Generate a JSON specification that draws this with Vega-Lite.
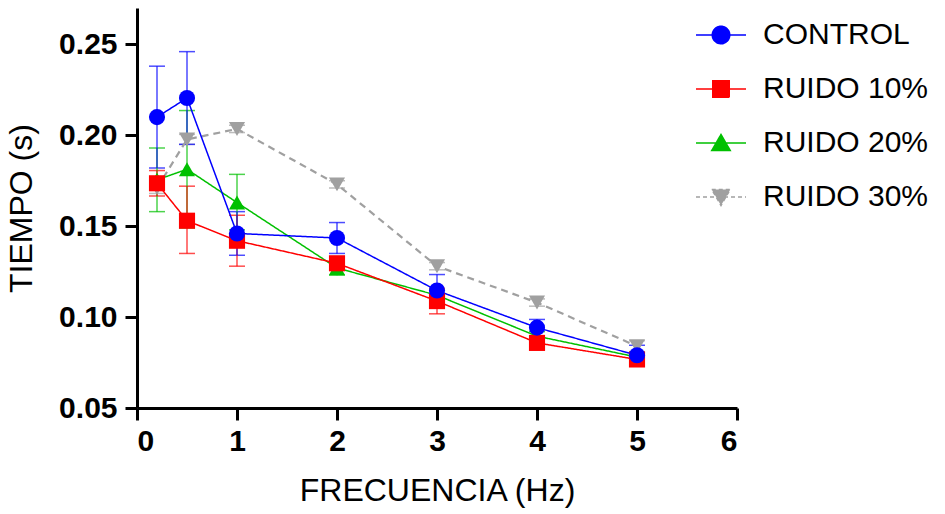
{
  "$schema": "https://vega.github.io/schema/vega-lite/v6.json",
  "width": 600,
  "height": 400,
  "autosize": {"type": "none"},
  "padding": {"left": 137, "top": 8, "right": 208, "bottom": 106},
  "background": "white",
  "config": {
    "view": {"stroke": null},
    "font": "Liberation Sans",
    "axis": {
      "grid": false,
      "domainColor": "black",
      "domainWidth": 3,
      "tickColor": "black",
      "tickWidth": 3,
      "tickSize": 12,
      "labelFont": "Liberation Sans",
      "labelFontWeight": "bold",
      "labelFontSize": 30,
      "labelColor": "black",
      "titleFont": "Liberation Sans",
      "titleFontWeight": "normal",
      "titleFontSize": 32,
      "titleColor": "black"
    }
  },
  "data": {
    "values": [
      {"freq": 0.2, "group": "RUIDO 30%", "mean": 0.171, "lo": 0.168, "hi": 0.174},
      {"freq": 0.5, "group": "RUIDO 30%", "mean": 0.1977, "lo": 0.195, "hi": 0.2005},
      {"freq": 1, "group": "RUIDO 30%", "mean": 0.2035, "lo": 0.2015, "hi": 0.2055},
      {"freq": 2, "group": "RUIDO 30%", "mean": 0.173, "lo": 0.171, "hi": 0.175},
      {"freq": 3, "group": "RUIDO 30%", "mean": 0.128, "lo": 0.126, "hi": 0.13},
      {"freq": 4, "group": "RUIDO 30%", "mean": 0.108, "lo": 0.106, "hi": 0.11},
      {"freq": 5, "group": "RUIDO 30%", "mean": 0.084, "lo": 0.081, "hi": 0.087},
      {"freq": 0.2, "group": "RUIDO 20%", "mean": 0.1755, "lo": 0.158, "hi": 0.193},
      {"freq": 0.5, "group": "RUIDO 20%", "mean": 0.1813, "lo": 0.149, "hi": 0.2136},
      {"freq": 1, "group": "RUIDO 20%", "mean": 0.163, "lo": 0.148, "hi": 0.1785},
      {"freq": 2, "group": "RUIDO 20%", "mean": 0.127, "lo": 0.123, "hi": 0.131},
      {"freq": 3, "group": "RUIDO 20%", "mean": 0.112, "lo": 0.109, "hi": 0.115},
      {"freq": 4, "group": "RUIDO 20%", "mean": 0.0895, "lo": 0.087, "hi": 0.092},
      {"freq": 5, "group": "RUIDO 20%", "mean": 0.078, "lo": 0.076, "hi": 0.08},
      {"freq": 0.2, "group": "RUIDO 10%", "mean": 0.1736, "lo": 0.1666, "hi": 0.1806},
      {"freq": 0.5, "group": "RUIDO 10%", "mean": 0.153, "lo": 0.135, "hi": 0.172},
      {"freq": 1, "group": "RUIDO 10%", "mean": 0.142, "lo": 0.128, "hi": 0.156},
      {"freq": 2, "group": "RUIDO 10%", "mean": 0.1296, "lo": 0.126, "hi": 0.133},
      {"freq": 3, "group": "RUIDO 10%", "mean": 0.1088, "lo": 0.1018, "hi": 0.1158},
      {"freq": 4, "group": "RUIDO 10%", "mean": 0.0858, "lo": 0.083, "hi": 0.0886},
      {"freq": 5, "group": "RUIDO 10%", "mean": 0.0767, "lo": 0.075, "hi": 0.0785},
      {"freq": 0.2, "group": "CONTROL", "mean": 0.21, "lo": 0.182, "hi": 0.238},
      {"freq": 0.5, "group": "CONTROL", "mean": 0.2205, "lo": 0.195, "hi": 0.246},
      {"freq": 1, "group": "CONTROL", "mean": 0.146, "lo": 0.134, "hi": 0.158},
      {"freq": 2, "group": "CONTROL", "mean": 0.1435, "lo": 0.135, "hi": 0.152},
      {"freq": 3, "group": "CONTROL", "mean": 0.1146, "lo": 0.1059, "hi": 0.1234},
      {"freq": 4, "group": "CONTROL", "mean": 0.0942, "lo": 0.0897, "hi": 0.0987},
      {"freq": 5, "group": "CONTROL", "mean": 0.079, "lo": 0.0735, "hi": 0.0845}
    ]
  },
  "encoding": {
    "x": {
      "field": "freq",
      "type": "quantitative",
      "scale": {"domain": [0, 6], "nice": false, "zero": false},
      "axis": {"values": [0, 1, 2, 3, 4, 5, 6], "title": "FRECUENCIA (Hz)", "titlePadding": 19, "labelPadding": 6}
    },
    "color": {
      "field": "group",
      "type": "nominal",
      "scale": {
        "domain": ["CONTROL", "RUIDO 10%", "RUIDO 20%", "RUIDO 30%"],
        "range": ["#0000FF", "#FF0000", "#00C000", "#A0A0A0"]
      },
      "legend": {
        "title": null,
        "orient": "none",
        "legendX": 558,
        "legendY": 1,
        "padding": 0,
        "symbolSize": 2500,
        "labelFont": "Liberation Sans",
        "labelFontSize": 30,
        "labelColor": "black",
        "labelOffset": 16,
        "rowPadding": 13,
        "labelLimit": 300,
        "encode": {
          "symbols": {
            "update": {
              "shape": {"signal": "datum.value === 'CONTROL' ? 'M-1,0H1M-0.35,0A0.35,0.35 0 1,0 0.35,0A0.35,0.35 0 1,0 -0.35,0Z' : datum.value === 'RUIDO 10%' ? 'M-1,0H1M-0.33,-0.33H0.33V0.33H-0.33Z' : datum.value === 'RUIDO 20%' ? 'M-1,0H1M0,-0.34L0.37,0.3H-0.37Z' : 'M-1,0H1M-0.37,-0.3H0.37L0,0.34Z'"},
              "strokeWidth": {"value": 1.5},
              "strokeDash": {"signal": "datum.value === 'RUIDO 30%' ? [4, 3] : [1, 0]"},
              "size": {"value": 2500}
            }
          }
        }
      }
    }
  },
  "layer": [
    {
      "mark": {"type": "errorbar", "ticks": {"size": 16, "thickness": 1.5}, "thickness": 1.5, "opacity": 0.7},
      "encoding": {
        "y": {
          "field": "lo",
          "type": "quantitative",
          "scale": {"domain": [0.05, 0.27], "nice": false, "zero": false},
          "axis": {"values": [0.05, 0.1, 0.15, 0.2, 0.25], "format": ".2f", "title": "TIEMPO (s)", "titlePadding": 20, "labelPadding": 8}
        },
        "y2": {"field": "hi"}
      }
    },
    {
      "mark": {"type": "line"},
      "encoding": {
        "y": {"field": "mean", "type": "quantitative"},
        "strokeDash": {"condition": {"test": "datum.group === 'RUIDO 30%'", "value": [7, 5]}, "value": [1, 0]},
        "strokeWidth": {"condition": {"test": "datum.group === 'RUIDO 30%'", "value": 2.2}, "value": 1.5}
      }
    },
    {
      "mark": {"type": "point", "filled": true, "opacity": 1, "size": 260},
      "encoding": {
        "y": {"field": "mean", "type": "quantitative"},
        "shape": {
          "condition": [
            {"test": "datum.group === 'CONTROL'", "value": "circle"},
            {"test": "datum.group === 'RUIDO 10%'", "value": "square"},
            {"test": "datum.group === 'RUIDO 20%'", "value": "triangle-up"}
          ],
          "value": "triangle-down"
        }
      }
    }
  ]
}
